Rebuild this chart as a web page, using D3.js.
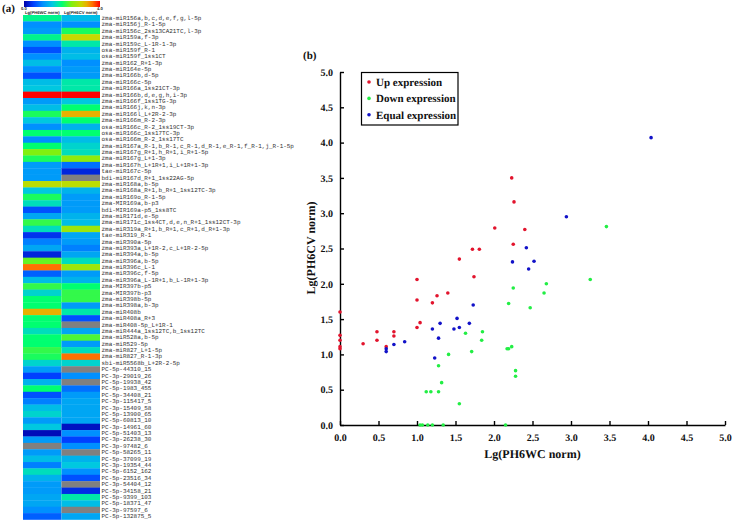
<!DOCTYPE html>
<html>
<head>
<meta charset="utf-8">
<script src="https://cdn.jsdelivr.net/npm/d3@7"></script>
<style>
  html, body { margin: 0; padding: 0; background: #fff; }
  svg { display: block; text-rendering: geometricPrecision; }
  .serif { font-family: "Liberation Serif", serif; font-weight: bold; fill: #111; }
  .small { font-family: "Liberation Sans", sans-serif; font-weight: bold; font-size: 4.2px; fill: #222; }
  .rowlabel { font-family: "Liberation Mono", monospace; font-size: 5.95px; fill: #333; }
  .axis text { font-family: "Liberation Serif", serif; font-weight: bold; font-size: 10px; fill: #111; }
  .axis path, .axis line { stroke: #000; stroke-width: 1.4px; }
</style>
</head>
<body>
<svg id="chart" width="733" height="521"></svg>
<script>
// heatmap rows
const rowLabels = [
  'zma-miR156a,b,c,d,e,f,g,l-5p', 'zma-miR156j_R-1-5p', 'zma-miR156c_2ss13CA21TC,l-3p', 'zma-miR159a,f-3p',
  'zma-miR159c_L-1R-1-3p', 'osa-miR159f_R-1', 'osa-miR159f_1ss1CT', 'zma-miR162_R+1-3p', 'zma-miR164e-5p',
  'zma-miR166b,d-5p', 'zma-miR166c-5p', 'zma-miR166a_1ss21CT-3p', 'zma-miR166b,d,e,g,h,i-3p', 'zma-miR166f_1ss1TG-3p',
  'zma-miR166j,k,n-3p', 'zma-miR166l_L+2R-2-3p', 'zma-miR166m_R-2-3p', 'osa-miR166c_R-2_1ss19CT-3p', 'osa-miR166c_1ss17TC-3p',
  'osa-miR166m_R-2_1ss17TC', 'zma-miR167a_R-1,b_R-1,c_R-1,d_R-1,e_R-1,f_R-1,j_R-1-5p', 'zma-miR167g_R+1,h_R+1,i_R+1-5p',
  'zma-miR167g_L+1-3p', 'zma-miR167h_L+1R+1,i_L+1R+1-3p', 'tae-miR167c-5p', 'bdi-miR167d_R+1_1ss22AG-5p', 'zma-miR168a,b-5p',
  'zma-miR168a_R+1,b_R+1_1ss12TC-3p', 'zma-miR169o_R-1-5p', 'zma-MIR169a,b-p3', 'bdi-MIR169a-p5_1ss8TC', 'zma-miR171d,e-5p',
  'zma-miR171c_1ss4CT,d,e,n_R+1_1ss12CT-3p', 'zma-miR319a_R+1,b_R+1,c_R+1,d_R+1-3p', 'tae-miR319_R-1', 'zma-miR390a-5p',
  'zma-miR393a_L+1R-2,c_L+1R-2-5p', 'zma-miR394a,b-5p', 'zma-miR396a,b-5p', 'zma-miR396c_L-1', 'zma-miR396c,f-5p',
  'zma-miR396a_L-1R+1,b_L-1R+1-3p', 'zma-MIR397b-p5', 'zma-MIR397b-p3', 'zma-miR398b-5p', 'zma-miR398a,b-3p', 'zma-miR408b',
  'zma-miR408a_R+3', 'zma-miR408-5p_L+1R-1', 'zma-miR444a_1ss12TC,b_1ss12TC', 'zma-miR528a,b-5p', 'zma-miR529-5p',
  'zma-miR827_L+1-5p', 'zma-miR827_R-1-3p', 'sbi-miR5568b_L+2R-2-5p', 'PC-5p-44310_15', 'PC-3p-29019_26', 'PC-5p-19938_42',
  'PC-5p-1983_455', 'PC-5p-34408_21', 'PC-3p-115417_5', 'PC-3p-15409_58', 'PC-5p-13900_65', 'PC-5p-60813_10', 'PC-3p-14961_60',
  'PC-5p-51403_13', 'PC-3p-26238_30', 'PC-3p-97482_6', 'PC-5p-58265_11', 'PC-5p-37099_19', 'PC-3p-19354_44', 'PC-5p-6152_162',
  'PC-5p-23516_34', 'PC-3p-54404_12', 'PC-5p-34158_21', 'PC-5p-9399_103', 'PC-5p-18371_47', 'PC-3p-97597_6', 'PC-5p-132875_5'
];
// null = no value, drawn grey
const wcValues = [
  1.9, 1.0, 1.1, 1.9, 1.0, 0.6, 1.0, 1.4, 1.0, 0.6, 1.4, 1.5, 4.0, 1.1, 1.4, 2.1, 1.5, 1.0, 2.0, 1.0,
  2.0, 2.5, 2.1, 1.1, 1.1, 1.1, 2.9, 1.5, 2.1, 1.7, 0.6, 1.2, 2.2, 1.7, 0.4, 0.9, 1.2, 0.3, 2.4, 3.6,
  0.7, 1.4, 2.2, 1.6, 2.0, 2.0, 3.3, 2.0, 2.0, 1.7, 2.0, 2.0, 2.2, 2.1, 1.6, 1.1, 0.5, 1.3, 2.0, 0.6,
  0.9, 1.4, 1.6, 1.1, 1.5, 0.1, 1.1, null, 1.1, 1.4, 0.9, 1.7, 1.3, 1.1, 1.1, 1.2, 1.2, 1.0, 0.7
];
const cvValues = [
  1.4, 1.0, 2.1, 3.0, 1.8, 1.3, 1.4, 1.0, 1.1, 1.1, 1.8, 1.8, 4.0, 1.5, 2.0, 3.3, 2.0, 1.3, 2.0, 1.4,
  1.6, 1.7, 2.6, 0.8, 0.3, null, 2.9, 1.3, 1.1, 1.1, 1.1, 1.3, 1.4, 2.7, 1.2, 1.1, 0.9, 1.2, 1.7, 2.7,
  1.1, 1.3, 2.0, 2.2, 2.2, 1.1, 1.8, 0.6, null, 1.2, 2.3, 1.1, 1.7, 3.6, 1.6, null, 1.0, null, 0.8, 1.1,
  1.2, 1.2, 1.2, 1.2, 0.15, 1.0, 0.5, 1.0, null, 1.3, 1.5, 1.0, 0.6, null, 0.35, 1.8, 1.4, null, 1.2
];
const heatColumns = ['Lg(PH6WC norm)', 'Lg(PH6CV norm)'];
const colorDomain = [0, 0.5, 1, 1.5, 1.8, 2, 2.5, 3, 3.3, 3.6, 4];
const colorRange = ['#0000a8', '#0040ff', '#0090ff', '#00c8e0', '#00e8a8', '#00ff70', '#80f010', '#c8d800', '#e8b000', '#ff7000', '#ff0000'];

// scatter series
const upX = [0, 0, 0, 0, 0, 0.30, 0.48, 0.48, 0.60, 0.70, 0.70, 1.00, 1.04, 1.00, 1.00, 1.20, 1.26, 1.40, 1.55, 1.72, 1.81, 1.74, 2.01, 2.25, 2.23, 2.26, 2.40];
const upY = [1.60, 1.27, 1.20, 1.11, 1.08, 1.15, 1.32, 1.20, 1.11, 1.32, 1.26, 1.38, 1.45, 1.77, 2.06, 1.73, 1.83, 1.87, 2.35, 2.49, 2.49, 2.10, 2.79, 2.56, 3.50, 3.16, 2.77];
const downX = [3.46, 3.25, 2.68, 2.65, 2.25, 2.19, 2.47, 2.23, 2.17, 2.19, 2.28, 2.28, 2.15, 1.85, 1.84, 1.63, 1.71, 1.41, 1.28, 1.32, 1.12, 1.18, 1.28, 1.55, 1.04, 1.07, 1.14, 1.20, 1.34];
const downY = [2.81, 2.06, 2.00, 1.87, 1.94, 1.72, 1.66, 1.11, 1.08, 1.08, 0.77, 0.69, 0, 1.32, 1.20, 1.30, 1.04, 1.00, 0.84, 0.60, 0.47, 0.47, 0.47, 0.30, 0, 0, 0, 0, 0];
const equalX = [4.04, 2.94, 2.42, 2.52, 2.24, 2.45, 0.60, 0.60, 0.70, 0.84, 1.20, 1.28, 1.30, 1.23, 1.48, 1.55, 1.52, 1.68, 1.73];
const equalY = [4.07, 2.95, 2.51, 2.32, 2.31, 2.21, 1.08, 1.04, 1.14, 1.18, 1.36, 1.23, 1.44, 0.95, 1.36, 1.38, 1.51, 1.44, 1.70];
const seriesNames = ['Up expression', 'Down expression', 'Equal expression'];
const seriesColors = ['#e2142d', '#22ee44', '#1212c8'];
const axisTicks = [0, 0.5, 1, 1.5, 2, 2.5, 3, 3.5, 4, 4.5, 5];

const svg = d3.select('#chart');

// ---- panel a ----
const color = d3.scaleLinear().domain(colorDomain).range(colorRange);
const col = d3.scaleBand().domain(heatColumns).range([23, 100]);
const row = d3.scaleBand().domain(rowLabels).range([15, 519.5]);

svg.append('text').attr('class', 'serif').attr('x', 2).attr('y', 12).attr('font-size', 11).text('(a)');

// color bar
const grad = svg.append('defs').append('linearGradient').attr('id', 'bar');
colorDomain.forEach((d, i) => {
  grad.append('stop').attr('offset', d / 4).attr('stop-color', colorRange[i]);
});
svg.append('rect').attr('x', 24).attr('y', 1).attr('width', 76).attr('height', 6).attr('fill', 'url(#bar)');
svg.append('text').attr('class', 'small').attr('x', 21).attr('y', 10).text('0.0');
svg.append('text').attr('class', 'small').attr('x', 97).attr('y', 10).text('4.0');
svg.selectAll('.collabel').data(heatColumns).enter().append('text')
  .attr('class', 'small collabel')
  .attr('x', d => col(d) + col.bandwidth() / 2)
  .attr('y', 14)
  .attr('text-anchor', 'middle')
  .text(d => d);

[wcValues, cvValues].forEach((values, c) => {
  svg.append('g').selectAll('rect').data(values).enter().append('rect')
    .attr('x', col(heatColumns[c]))
    .attr('y', (d, i) => row(rowLabels[i]))
    .attr('width', col.bandwidth())
    .attr('height', row.bandwidth() + 0.3)
    .attr('fill', d => d === null ? '#808080' : color(d));
});

svg.append('g').selectAll('text').data(rowLabels).enter().append('text')
  .attr('class', 'rowlabel')
  .attr('x', 101.5)
  .attr('y', d => row(d) + row.bandwidth() / 2 + 1.8)
  .text(d => d);

// ---- panel b ----
const x = d3.scaleLinear().domain([0, 5]).range([340, 725]);
const y = d3.scaleLinear().domain([0, 5]).range([425, 72]);

svg.append('text').attr('class', 'serif').attr('x', 303).attr('y', 59).attr('font-size', 11).text('(b)');

svg.append('g').attr('class', 'axis')
  .attr('transform', 'translate(0,425)')
  .call(d3.axisBottom(x).tickValues(axisTicks).tickFormat(d3.format('.1f')).tickSizeInner(-4).tickSizeOuter(0).tickPadding(9));
svg.append('g').attr('class', 'axis')
  .attr('transform', 'translate(340,0)')
  .call(d3.axisLeft(y).tickValues(axisTicks).tickFormat(d3.format('.1f')).tickSizeInner(-4).tickSizeOuter(0).tickPadding(7));

svg.append('text').attr('class', 'serif').attr('x', 532.5).attr('y', 458)
  .attr('text-anchor', 'middle').attr('font-size', 12).text('Lg(PH6WC norm)');
svg.append('text').attr('class', 'serif')
  .attr('transform', 'translate(315,248) rotate(-90)')
  .attr('text-anchor', 'middle').attr('font-size', 12).text('Lg(PH6CV norm)');

[[upX, upY], [downX, downY], [equalX, equalY]].forEach((s, k) => {
  svg.append('g').selectAll('circle').data(s[0]).enter().append('circle')
    .attr('cx', d => x(d))
    .attr('cy', (d, i) => y(s[1][i]))
    .attr('r', 1.8)
    .attr('fill', seriesColors[k]);
});

// legend
const legend = svg.append('g');
legend.append('rect').attr('x', 361.5).attr('y', 72.5).attr('width', 96.5).attr('height', 52.5)
  .attr('fill', '#fff').attr('stroke', '#000').attr('stroke-width', 1.2);
seriesNames.forEach((name, i) => {
  legend.append('circle').attr('cx', 369).attr('cy', 82 + i * 16.4).attr('r', 1.8).attr('fill', seriesColors[i]);
  legend.append('text').attr('class', 'serif').attr('x', 376).attr('y', 85.7 + i * 16.4)
    .attr('font-size', 11).text(name);
});
</script>
</body>
</html>
